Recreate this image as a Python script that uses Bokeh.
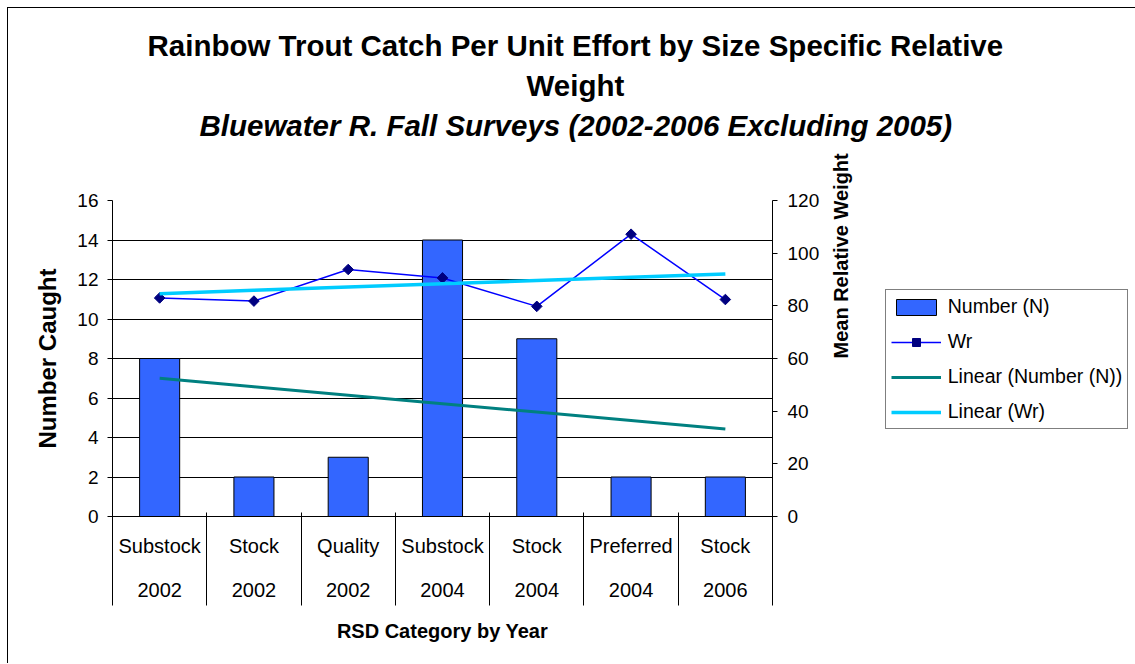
import numpy as np
from bokeh.plotting import figure
from bokeh.models import (Range1d, LinearAxis, FixedTicker, Legend, LegendItem,
                          ColumnDataSource, Title, InlineStyleSheet)
from bokeh.embed import file_html
from bokeh.resources import INLINE

# ---- data ----
categories = ["Substock", "Stock", "Quality", "Substock", "Stock", "Preferred", "Stock"]
years = ["2002", "2002", "2002", "2004", "2004", "2004", "2006"]
number_n = [8, 2, 3, 14, 9, 2, 2]
wr = [83.0, 81.8, 93.8, 90.6, 79.8, 107.2, 82.4]
left_ticks = [0, 2, 4, 6, 8, 10, 12, 14, 16]
right_ticks = [0, 20, 40, 60, 80, 100, 120]

title_1 = "Rainbow Trout Catch Per Unit Effort by Size Specific Relative"
title_2 = "Weight"
subtitle = "Bluewater R. Fall Surveys (2002-2006 Excluding 2005)"
x_title = "RSD Category by Year"
y_title = "Number Caught"
y2_title = "Mean Relative Weight"

FONT = "Liberation Sans"

x = np.arange(1, len(categories) + 1)
# Excel-style linear trendlines (least squares fit of each series)
n_trend = np.polyval(np.polyfit(x, number_n, 1), x)
wr_trend = np.polyval(np.polyfit(x, wr, 1), x)

src = ColumnDataSource(dict(x=x, n=number_n, wr=wr, n_tr=n_trend, wr_tr=wr_trend))

p = figure(frame_width=660, frame_height=316,
           min_border_left=112, min_border_right=362,
           min_border_top=200, min_border_bottom=147,
           x_range=Range1d(0.5, len(categories) + 0.5), y_range=Range1d(0, 16),
           output_backend="svg", toolbar_location=None, tools="",
           title=None)
p.extra_y_ranges = {"wr": Range1d(0, 120)}
p.background_fill_color = "white"
p.border_fill_color = "white"
p.outline_line_color = None

# ---- titles (first added is nearest the frame) ----
def make_title(text, style, offset, standoff):
    t = Title(text=text, align="left", offset=offset, standoff=standoff,
              text_font=FONT, text_font_size="29.5px", text_font_style=style,
              text_color="black")
    p.add_layout(t, "above")

make_title(" ", "bold", 0, 21)            # spacing between titles and plot area
make_title(subtitle, "bold italic", 87, 4.5)
make_title(title_2, "bold", 414, 4.5)
make_title(title_1, "bold", 35, 4.5)

# ---- grid ----
p.xgrid.visible = False
p.ygrid.ticker = FixedTicker(ticks=left_ticks)
p.ygrid.grid_line_color = "black"
p.ygrid.grid_line_width = 1

# ---- left axis ----
yax = p.yaxis[0]
yax.ticker = FixedTicker(ticks=left_ticks)
yax.major_tick_out = 5
yax.major_tick_in = 0
yax.minor_tick_out = 0
yax.minor_tick_in = 0
yax.major_label_standoff = 9
yax.major_label_text_font = FONT
yax.major_label_text_font_size = "19px"
yax.major_label_text_color = "black"
yax.axis_line_color = "black"
yax.major_tick_line_color = "black"
yax.axis_label = y_title
yax.axis_label_text_font = FONT
yax.axis_label_text_font_size = "24px"
yax.axis_label_text_font_style = "bold"
yax.axis_label_text_color = "black"
yax.axis_label_standoff = 13

# ---- right axis ----
rax = LinearAxis(y_range_name="wr", ticker=FixedTicker(ticks=right_ticks))
rax.major_tick_out = 5
rax.major_tick_in = 0
rax.minor_tick_out = 0
rax.minor_tick_in = 0
rax.major_label_standoff = 10
rax.major_label_text_font = FONT
rax.major_label_text_font_size = "19px"
rax.major_label_text_color = "black"
rax.axis_line_color = "black"
rax.major_tick_line_color = "black"
rax.axis_label = y2_title
rax.axis_label_text_font = FONT
rax.axis_label_text_font_size = "20px"
rax.axis_label_text_font_style = "bold"
rax.axis_label_text_color = "black"
rax.axis_label_text_align = "center"
rax.axis_label_standoff = 19
rax.axis_label_orientation = np.pi / 2
p.add_layout(rax, "right")

# ---- bottom category axis ----
xax = p.xaxis[0]
xax.ticker = FixedTicker(ticks=[float(v) for v in x],
                         minor_ticks=[i + 0.5 for i in range(len(categories) + 1)])
xax.major_tick_out = 0
xax.major_tick_in = 0
xax.major_tick_line_color = None
xax.minor_tick_out = 89
xax.minor_tick_in = 4
xax.minor_tick_line_color = "black"
xax.major_label_overrides = {int(v): f"{c}\n\n{yr}" for v, c, yr in zip(x, categories, years)}
xax.major_label_text_font = FONT
xax.major_label_text_font_size = "20px"
xax.major_label_text_color = "black"
xax.major_label_text_line_height = 1.0
xax.major_label_standoff = -71
xax.axis_line_color = "black"
xax.axis_label = x_title
xax.axis_label_text_font = FONT
xax.axis_label_text_font_size = "20px"
xax.axis_label_text_font_style = "bold"
xax.axis_label_text_color = "black"
xax.axis_label_standoff = 16

# ---- glyphs ----
bars = p.vbar(x="x", top="n", width=0.425, source=src,
              fill_color="#3366FF", line_color="black", line_width=1)
wr_line = p.line("x", "wr", source=src, y_range_name="wr",
                 line_color="#0000FF", line_width=1.5)
wr_pts = p.scatter("x", "wr", source=src, y_range_name="wr", marker="square",
                   angle=np.pi / 4, size=7.5, fill_color="#000080",
                   line_color="#000080")
n_tr = p.line("x", "n_tr", source=src, line_color="#008080", line_width=3)
wr_tr = p.line("x", "wr_tr", source=src, y_range_name="wr",
               line_color="#00CCFF", line_width=3.5)

# ---- legend (right side panel) ----
legend = Legend(items=[
    LegendItem(label="Number (N)", renderers=[bars]),
    LegendItem(label="Wr", renderers=[wr_line, wr_pts]),
    LegendItem(label="Linear (Number (N))", renderers=[n_tr]),
    LegendItem(label="Linear (Wr)", renderers=[wr_tr]),
], location=(-206, 87), orientation="vertical", margin=0, padding=5,
    spacing=12, glyph_width=50, glyph_height=20, label_height=20,
    label_standoff=7, label_text_font=FONT, label_text_font_size="19.5px",
    label_text_color="black", border_line_color="black", border_line_width=1,
    background_fill_color="white", background_fill_alpha=1)
p.add_layout(legend, "right")

# chart-area border (top and left edges visible in the reference)
p.stylesheets = [InlineStyleSheet(css=(
    ":host { position: relative; }"
    ":host::after { content: ''; position: absolute; left: 7px; top: 7px; "
    "right: 0; bottom: 0; border-left: 1px solid black; "
    "border-top: 1px solid black; pointer-events: none; z-index: 100; }"))]

open("out.html", "w").write(file_html(p, INLINE))
